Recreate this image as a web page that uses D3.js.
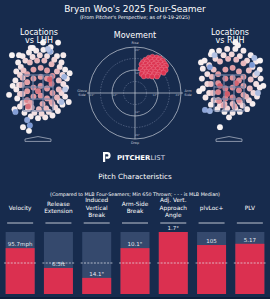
<!DOCTYPE html>
<html>
<head>
<meta charset="utf-8">
<script src="https://cdn.jsdelivr.net/npm/d3@7"></script>
<style>
  body { margin: 0; background: #172b4d; }
  svg { display: block; }
  text { font-family: "DejaVu Sans", sans-serif; }
</style>
</head>
<body>
<div id="chart"></div>
<script>
const width = 270;
const height = 299;

// --- data ---
// pitch locations [plate_x ft, plate_z ft, colour value -1..1]
const lhhPoints = [
  [-1.1,4.2,0.03],[-0.85,4.55,0.05],[-0.5,4.75,0.04],[-0.1,4.85,0.06],[0.3,4.9,0.03],[0.7,4.8,0.05],[1.05,4.55,0.04],[1.3,4.2,0.06],
  [1.5,3.8,0.03],[1.6,3.3,0.05],[1.55,2.8,0.04],[1.5,2.3,0.06],[1.35,1.85,0.03],[1.1,1.5,0.05],[0.8,1.25,0.04],[0.4,1.15,0.06],
  [0.0,1.1,0.03],[-0.4,1.2,0.05],[-0.75,1.4,0.04],[-1.0,1.75,0.06],[-1.15,2.2,0.03],[-1.2,2.7,0.05],[-1.25,3.2,0.04],[-1.2,3.7,0.06],
  [-0.95,3.95,0.1],[-0.7,4.3,0.14],[-0.3,4.5,0.1],[0.1,4.6,0.14],[0.5,4.55,0.1],[0.9,4.35,0.14],[1.2,3.95,0.1],[1.35,3.5,0.14],
  [1.4,3.0,0.1],[1.3,2.5,0.14],[1.2,2.05,0.1],[0.95,1.7,0.14],[0.6,1.45,0.1],[0.2,1.35,0.14],[-0.2,1.4,0.1],[-0.55,1.6,0.14],
  [-0.85,1.95,0.1],[-1.0,2.45,0.14],[-1.05,2.95,0.1],[-1.0,3.5,0.14],
  [-1.05,4.6,0.03],[1.4,4.6,0.05],[1.7,2.0,0.03],[-1.3,1.6,0.04],[0.7,5.05,0.02],[-0.4,5.0,0.03],[1.75,3.6,0.02],[-1.4,2.9,0.02],
  [-0.8,3.75,0.25],[-0.45,4.2,0.28],[-0.05,4.3,0.3],[0.35,4.3,0.28],[0.75,4.1,0.3],[1.05,3.7,0.28],[1.15,3.2,0.25],[1.15,2.7,0.28],
  [1.05,2.25,0.3],[0.8,1.9,0.25],[0.45,1.65,0.28],[0.05,1.6,0.3],[-0.35,1.7,0.28],[-0.65,2.0,0.25],[-0.85,2.45,0.28],[-0.9,2.95,0.3],
  [-0.85,3.35,0.28],
  [-0.6,3.55,0.4],[-0.25,3.8,0.42],[0.15,3.9,0.4],[0.5,3.75,0.44],[0.8,3.45,0.5],[-0.6,3.1,0.42],[-0.25,3.3,0.46],[0.15,3.4,0.44],
  [0.5,3.3,0.48],[0.75,3.0,0.6],[-0.6,2.6,0.44],[-0.25,2.8,0.5],[0.15,2.9,0.48],[0.5,2.75,0.46],[0.8,2.5,0.44],[-0.6,2.1,0.55],
  [-0.25,2.3,0.46],[0.15,2.35,0.5],[0.5,2.2,0.44],[0.75,2.0,0.4],[-0.4,1.95,0.4],[0.25,1.9,0.38],
  [0.65,3.25,0.75],[-0.55,1.75,0.65],[0.0,2.6,0.6],
  [0.67,4.8,-0.5],[1.45,3.4,-0.45],[1.3,2.0,-0.4],[-1.25,1.45,-0.6],[-0.6,1.0,-0.55],[-0.45,0.7,-0.65],[0.55,4.95,-0.35],[1.5,2.7,-0.3],
  [0.28,5.3,0],[1.11,5.3,0],[-0.28,5.0,0],[-1.44,4.6,0],[-0.83,0.6,0.02],[-0.5,0.4,0],[-1.6,2.4,0.02]
];

const rhhPoints = [
  [-1.35,4.3,0.03],[-1.0,4.65,0.05],[-0.55,4.85,0.04],[-0.1,4.95,0.06],[0.35,4.95,0.03],[0.8,4.85,0.05],[1.2,4.6,0.04],[1.5,4.25,0.06],
  [1.7,3.8,0.03],[1.75,3.3,0.05],[1.7,2.8,0.04],[1.55,2.3,0.06],[1.3,1.9,0.03],[1.0,1.6,0.05],[0.6,1.45,0.04],[0.2,1.4,0.06],
  [-0.25,1.45,0.03],[-0.65,1.6,0.05],[-1.0,1.85,0.04],[-1.3,2.25,0.06],[-1.45,2.75,0.03],[-1.5,3.3,0.05],[-1.45,3.85,0.04],
  [-1.1,4.05,0.1],[-0.75,4.4,0.14],[-0.3,4.6,0.1],[0.15,4.65,0.14],[0.6,4.55,0.1],[1.0,4.3,0.14],[1.3,3.95,0.1],[1.45,3.5,0.14],
  [1.5,3.0,0.1],[1.35,2.5,0.14],[1.1,2.1,0.1],[0.75,1.8,0.14],[0.35,1.65,0.1],[-0.1,1.65,0.14],[-0.5,1.8,0.1],[-0.85,2.1,0.14],
  [-1.1,2.5,0.1],[-1.2,3.0,0.14],[-1.2,3.55,0.1],
  [-0.94,4.8,0],[1.72,4.3,0],[-1.65,2.6,0.02],[1.9,2.9,0.02],[-0.5,0.6,0],[0.0,1.15,0.03],[0.5,5.15,0.02],[-1.55,4.2,0.02],
  [-0.85,3.8,0.25],[-0.5,4.25,0.28],[-0.05,4.4,0.3],[0.4,4.35,0.28],[0.8,4.15,0.3],[1.1,3.75,0.28],[1.2,3.25,0.25],[1.15,2.75,0.28],
  [0.95,2.3,0.3],[0.6,2.0,0.25],[0.2,1.9,0.28],[-0.25,1.9,0.3],[-0.6,2.1,0.28],[-0.9,2.5,0.25],[-1.0,3.0,0.28],[-0.95,3.4,0.3],
  [-0.6,3.55,0.45],[-0.2,3.8,0.42],[0.2,3.9,0.44],[0.55,3.7,0.4],[0.8,3.4,0.44],[-0.6,3.05,0.5],[-0.2,3.3,0.55],[0.2,3.35,0.48],
  [0.55,3.2,0.5],[0.8,2.9,0.42],[-0.6,2.55,0.55],[-0.2,2.75,0.6],[0.2,2.8,0.52],[0.55,2.65,0.55],[0.8,2.4,0.4],[-0.55,2.05,0.5],
  [-0.2,2.2,0.58],[0.2,2.25,0.55],[0.55,2.1,0.5],[-0.3,1.8,0.4],[0.3,1.75,0.38],
  [-0.5,2.9,0.75],[-0.1,2.45,0.75],[0.4,3.05,0.7],
  [-1.06,3.94,-0.6],[1.28,4.06,-0.65],[-1.33,1.56,-0.55],[-1.06,1.5,-0.5],[1.6,2.5,-0.4],[-0.8,4.6,-0.35],[1.4,4.45,-0.4],[1.55,3.6,-0.3],
  [0.35,5.3,0]
];

// movement [horizontal break in (arm side +), induced vertical break in]
const movement = [
  [7.2,18.4],[9.1,18.9],[11.3,18.6],[13.0,18.1],[5.4,17.3],[8.0,17.6],[10.2,17.4],[12.4,17.2],[14.6,16.8],[4.1,16.1],
  [6.3,16.5],[8.8,16.2],[11.0,16.0],[13.3,15.9],[15.5,15.4],[3.4,15.0],[5.6,15.2],[7.7,14.9],[9.9,15.1],[12.1,14.7],
  [14.2,14.5],[16.2,14.2],[4.3,13.7],[6.5,13.9],[8.6,13.6],[10.8,13.8],[13.0,13.4],[15.1,13.2],[3.0,12.6],[5.2,12.4],
  [7.4,12.7],[9.6,12.3],[11.9,12.5],[14.0,12.1],[16.0,12.0],[4.0,11.2],[6.1,11.0],[8.3,11.3],[10.6,11.1],[12.8,10.9],
  [14.9,10.6],[3.5,9.9],[5.6,9.7],[7.6,10.0],[10.0,9.8],[12.0,9.5],[4.6,8.7],[6.8,8.9],[9.0,8.6],[11.5,8.6]
];
const ringValues = [6, 12, 18, 24];
const ringLabels = ["12\"", "24\""];

// pitch characteristics
const metricNames = [["Velocity"], ["Release", "Extension"], ["Induced", "Vertical", "Break"], ["Arm-Side", "Break"],
                     ["Adj. Vert.", "Approach", "Angle"], ["plvLoc+"], ["PLV"]];
const metricPercentiles = [74, 42, 26, 74, 100, 79, 81];
const metricLabels = ["95.7mph", "6.5ft", "14.1\"", "10.1\"", "1.7°", "105", "5.17"];
const medianPercentile = 50;

// zone / plate outline in feet
const zoneX = [-0.83, 0.83];
const zoneZ = [1.5, 3.5];
const plateShape = [[-0.72,-0.19],[-0.72,-0.06],[0,0.08],[0.72,-0.06],[0.72,-0.19]];

const svg = d3.select("#chart")
  .append("svg")
  .attr("width", width)
  .attr("height", height);

svg.append("rect").attr("width", width).attr("height", height).attr("fill", "#172b4d");

// titles
svg.append("text").attr("x", 135).attr("y", 11.5).attr("text-anchor", "middle")
  .attr("fill", "#fff").style("font-size", "9px").text("Bryan Woo's 2025 Four-Seamer");
svg.append("text").attr("x", 135).attr("y", 18.5).attr("text-anchor", "middle")
  .attr("fill", "#fff").style("font-size", "4.9px").text("(From Pitcher's Perspective; as of 9-19-2025)");

// white -> red for dense spots, white -> blue for the odd outliers
const toRed = d3.interpolateRgb("#f8f3f3", "#c42a3c");
const toBlue = d3.interpolateRgb("#f8f3f3", "#3566c4");
const colour = v => v >= 0 ? toRed(v) : toBlue(-v);

function drawLocations(points, cx, title) {
  const x = d3.scaleLinear().domain(zoneX).range([cx - 15, cx + 15]);
  const y = d3.scaleLinear().domain(zoneZ).range([111, 75]);
  const g = svg.append("g");

  g.selectAll("circle")
    .data(points)
    .enter()
    .append("circle")
    .attr("cx", d => x(d[0]))
    .attr("cy", d => y(d[1]))
    .attr("r", 2.9)
    .attr("fill", d => colour(d[2]))
    .attr("stroke", "#ffffff")
    .attr("stroke-opacity", 0.3)
    .attr("stroke-width", 0.3);

  // strike zone with 3x3 grid
  const xs = d3.range(4).map(i => zoneX[0] + i * (zoneX[1] - zoneX[0]) / 3);
  const zs = d3.range(4).map(i => zoneZ[0] + i * (zoneZ[1] - zoneZ[0]) / 3);
  g.selectAll(".vl").data(xs).enter().append("line")
    .attr("x1", d => x(d)).attr("x2", d => x(d))
    .attr("y1", y(zoneZ[0])).attr("y2", y(zoneZ[1]))
    .attr("stroke", "#7889ad").attr("stroke-width", 1.1);
  g.selectAll(".hl").data(zs).enter().append("line")
    .attr("y1", d => y(d)).attr("y2", d => y(d))
    .attr("x1", x(zoneX[0])).attr("x2", x(zoneX[1]))
    .attr("stroke", "#7889ad").attr("stroke-width", 1.1);

  g.append("path")
    .attr("d", d3.line().x(d => x(d[0])).y(d => y(d[1]))(plateShape) + "Z")
    .attr("fill", "none").attr("stroke", "#b9c0cf").attr("stroke-width", 0.7);

  title.forEach((t, i) => {
    svg.append("text").attr("x", cx + 1).attr("y", 34.5 + i * 8.5).attr("text-anchor", "middle")
      .attr("fill", "#fff").style("font-size", "8px").text(t);
  });
}

drawLocations(lhhPoints, 38, ["Locations", "vs LHH"]);
drawLocations(rhhPoints, 229, ["Locations", "vs RHH"]);

// movement polar plot
const mcx = 135, mcy = 93;
const r = d3.scaleLinear().domain([0, 24]).range([0, 46]);
const mv = svg.append("g");

mv.selectAll(".ring").data(ringValues).enter().append("circle")
  .attr("cx", mcx).attr("cy", mcy).attr("r", d => r(d))
  .attr("fill", "none")
  .attr("stroke", d => d % 12 === 0 ? "#c9ced9" : "#7f8cab")
  .attr("stroke-width", d => d % 12 === 0 ? 0.7 : 0.5)
  .attr("stroke-dasharray", d => d % 12 === 0 ? null : "1.5,1.2");

mv.append("line").attr("x1", mcx - r(24) - 2).attr("x2", mcx + r(24) + 2).attr("y1", mcy).attr("y2", mcy)
  .attr("stroke", "#c9ced9").attr("stroke-width", 0.7);
mv.append("line").attr("y1", mcy - r(24)).attr("y2", mcy + r(24)).attr("x1", mcx).attr("x2", mcx)
  .attr("stroke", "#c9ced9").attr("stroke-width", 0.7);

[12, 24].forEach((v, i) => {
  const d = r(v) - 3;
  [[-d, 2.5], [d, 2.5], [2.5, -d + 1], [2.5, d]].forEach(o => {
    mv.append("text").attr("x", mcx + o[0]).attr("y", mcy + o[1]).attr("text-anchor", "middle")
      .attr("fill", "#aab3c6").style("font-size", "2.8px").text(ringLabels[i]);
  });
});

mv.selectAll(".mp").data(movement).enter().append("circle")
  .attr("cx", d => mcx + r(d[0]))
  .attr("cy", d => mcy - r(d[1]))
  .attr("r", 2.6)
  .attr("fill", "#dc3451")
  .attr("stroke", "#f39aa8")
  .attr("stroke-width", 0.35);

svg.append("text").attr("x", 135).attr("y", 37.5).attr("text-anchor", "middle")
  .attr("fill", "#fff").style("font-size", "8px").text("Movement");
const small = (x, y, t) => svg.append("text").attr("x", x).attr("y", y).attr("text-anchor", "middle")
  .attr("fill", "#c9ced9").style("font-size", "3.4px").text(t);
small(mcx, mcy - r(24) - 3, "Rise");
small(mcx, mcy + r(24) + 5, "Drop");
small(82, 92, "Glove");
small(82, 96, "Side");
small(188, 92, "Arm");
small(188, 96, "Side");

// pitcher list logo
svg.append("path")
  .attr("d", "M103,152 h4.2 a3.4,3.4 0 0 1 0,6.8 h-1.4 v-2.2 h1.4 a1.2,1.2 0 0 0 0,-2.4 h-2 v7.8 h-2.2 Z")
  .attr("fill", "#fff");
const logo = svg.append("text").attr("x", 117).attr("y", 160).attr("fill", "#fff")
  .style("font-size", "6.6px").attr("textLength", 48).attr("lengthAdjust", "spacingAndGlyphs");
logo.append("tspan").style("font-weight", "bold").text("PITCHER");
logo.append("tspan").attr("fill", "#d8dce6").text("LIST");

// pitch characteristics
svg.append("text").attr("x", 135).attr("y", 179).attr("text-anchor", "middle")
  .attr("fill", "#fff").style("font-size", "7.2px").text("Pitch Characteristics");
svg.append("text").attr("x", 135).attr("y", 196.2).attr("text-anchor", "middle")
  .attr("fill", "#fff").style("font-size", "4.8px")
  .text("(Compared to MLB Four-Seamers; Min 650 Thrown; - - - is MLB Median)");

const xb = d3.scalePoint().domain(d3.range(metricNames.length)).range([1, 269]).padding(0.5);
const yb = d3.scaleLinear().domain([0, 100]).range([294, 232]);
const barW = 29;

const cols = svg.selectAll(".col")
  .data(metricNames.map((n, i) => ({ name: n, p: metricPercentiles[i], label: metricLabels[i], i: i })))
  .enter()
  .append("g");

cols.each(function(d) {
  const g = d3.select(this);
  const cx = xb(d.i);
  const lh = 7.2;
  const y0 = 209.6 - (d.name.length - 1) * lh / 2;
  d.name.forEach((t, k) => {
    g.append("text").attr("x", cx).attr("y", y0 + k * lh).attr("text-anchor", "middle")
      .attr("fill", "#fff").style("font-size", "5.8px").text(t);
  });
  g.append("line").attr("x1", cx - 13).attr("x2", cx + 13).attr("y1", 223).attr("y2", 223)
    .attr("stroke", "#d3d7e0").attr("stroke-width", 0.9);
  g.append("rect").attr("x", cx - barW / 2).attr("width", barW)
    .attr("y", yb(100)).attr("height", yb(0) - yb(100)).attr("fill", "#35496d");
  g.append("rect").attr("x", cx - barW / 2).attr("width", barW)
    .attr("y", yb(d.p)).attr("height", yb(0) - yb(d.p)).attr("fill", "#db3050");
  g.append("line").attr("x1", cx - 16).attr("x2", cx + 16)
    .attr("y1", yb(medianPercentile)).attr("y2", yb(medianPercentile))
    .attr("stroke", "#e6e9ef").attr("stroke-width", 0.7).attr("stroke-dasharray", "2,1.3");
  g.append("text").attr("x", cx).attr("y", yb(d.p) - 1.8).attr("text-anchor", "middle")
    .attr("fill", "#e4e7ee").style("font-size", "5.5px").text(d.label);
});

svg.append("rect").attr("x", 0).attr("y", 297).attr("width", width).attr("height", 2).attr("fill", "#0f1f3b");
</script>
</body>
</html>
